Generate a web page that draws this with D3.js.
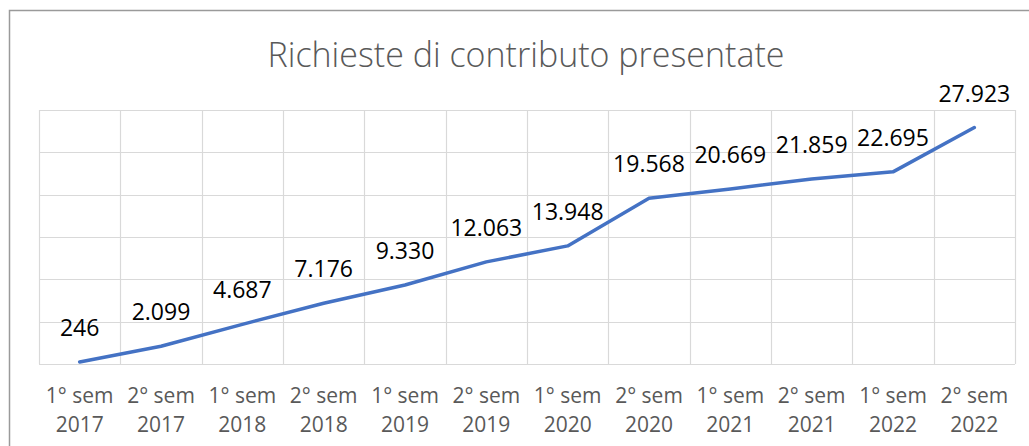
<!DOCTYPE html>
<html>
<head>
<meta charset="utf-8">
<script src="https://cdn.jsdelivr.net/npm/d3@7"></script>
<style>
  body { margin: 0; background: #fff; }
  svg { display: block; }
</style>
</head>
<body>
<div id="chart"></div>
<script>
const periods = ['1° sem', '2° sem', '1° sem', '2° sem', '1° sem', '2° sem', '1° sem', '2° sem', '1° sem', '2° sem', '1° sem', '2° sem'];
const years = ['2017', '2017', '2018', '2018', '2019', '2019', '2020', '2020', '2021', '2021', '2022', '2022'];
const richieste = [246, 2099, 4687, 7176, 9330, 12063, 13948, 19568, 20669, 21859, 22695, 27923];
const yTicks = [0, 5000, 10000, 15000, 20000, 25000, 30000];

const width = 1029;
const height = 446;
const margin = { top: 110, right: 14, bottom: 82, left: 39 };

const svg = d3.select('#chart')
  .append('svg')
  .attr('width', width)
  .attr('height', height);

// cornice del grafico
svg.append('rect')
  .attr('x', 9.5)
  .attr('y', 10.5)
  .attr('width', width + 20)
  .attr('height', height + 20)
  .attr('fill', 'none')
  .attr('stroke', '#9a9a9a')
  .attr('stroke-width', 1.5);

svg.append('text')
  .attr('x', 526)
  .attr('y', 67)
  .attr('text-anchor', 'middle')
  .style('font-family', '"Open Sans", sans-serif')
  .style('font-size', '34px')
  .style('font-weight', 300)
  .attr('fill', '#595959')
  .text('Richieste di contributo presentate');

const idx = richieste.map((d, i) => i);

const x = d3.scaleBand()
  .domain(idx)
  .range([margin.left, width - margin.right])
  .padding(0);

const y = d3.scaleLinear()
  .domain([0, 30000])
  .range([height - margin.bottom, margin.top]);

const grid = svg.append('g')
  .attr('stroke', '#d9d9d9')
  .attr('stroke-width', 1.2);

grid.selectAll('.hgrid')
  .data(yTicks)
  .enter()
  .append('line')
  .attr('x1', margin.left)
  .attr('x2', width - margin.right)
  .attr('y1', d => Math.round(y(d)) + 0.5)
  .attr('y2', d => Math.round(y(d)) + 0.5);

const edges = idx.map(i => x(i)).concat([x(idx[idx.length - 1]) + x.bandwidth()]);
grid.selectAll('.vgrid')
  .data(edges)
  .enter()
  .append('line')
  .attr('x1', d => Math.round(d) + 0.5)
  .attr('x2', d => Math.round(d) + 0.5)
  .attr('y1', y(30000))
  .attr('y2', y(0));

const cx = i => x(i) + x.bandwidth() / 2;

const line = d3.line()
  .x((d, i) => cx(i))
  .y(d => y(d));

svg.append('path')
  .datum(richieste)
  .attr('d', line)
  .attr('fill', 'none')
  .attr('stroke', '#4472c4')
  .attr('stroke-width', 3.5)
  .attr('stroke-linejoin', 'round')
  .attr('stroke-linecap', 'round');

const fmt = d3.formatLocale({ decimal: ',', thousands: '.', grouping: [3], currency: ['€', ''] }).format(',d');

svg.selectAll('.label')
  .data(richieste)
  .enter()
  .append('text')
  .attr('x', (d, i) => cx(i))
  .attr('y', d => y(d) - 26)
  .attr('text-anchor', 'middle')
  .style('font-family', '"Open Sans", sans-serif')
  .style('font-size', '23px')
  .attr('fill', '#000')
  .text(d => fmt(d));

const ticks = svg.selectAll('.tick')
  .data(idx)
  .enter()
  .append('text')
  .attr('text-anchor', 'middle')
  .style('font-family', '"Open Sans", sans-serif')
  .style('font-size', '21px')
  .attr('fill', '#595959');

ticks.append('tspan')
  .attr('x', i => cx(i))
  .attr('y', 403)
  .text(i => periods[i]);

ticks.append('tspan')
  .attr('x', i => cx(i))
  .attr('y', 432)
  .text(i => years[i]);
</script>
</body>
</html>
